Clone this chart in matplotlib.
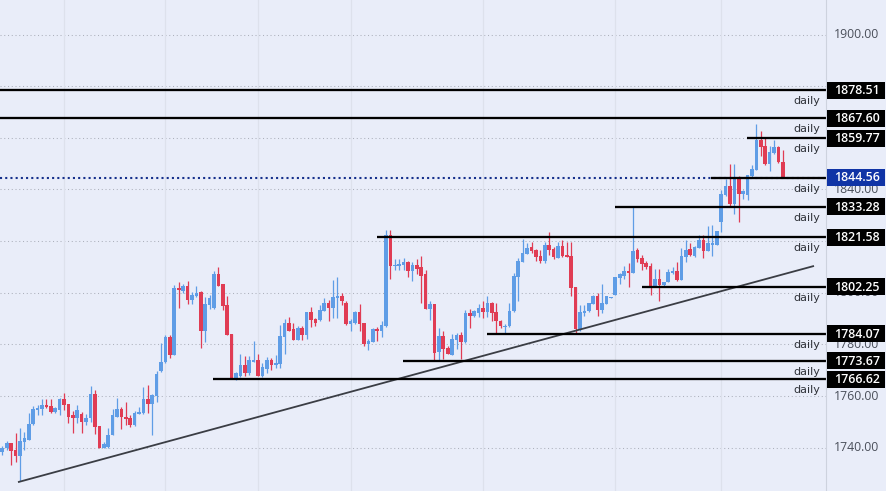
import matplotlib
matplotlib.use("Agg")
import matplotlib.pyplot as plt

opens = [1738.5,1739.8,1741.7,1739.0,1736.8,1742.2,1743.2,1749.2,1754.7,1754.9,1756.4,1756.0,1753.8,1754.6,1758.7,1756.8,1752.5,1751.4,1752.9,1749.8,
1751.4,1760.7,1748.3,1740.0,1740.4,1744.9,1752.1,1755.2,1752.1,1751.4,1748.7,1753.0,1753.3,1758.7,1756.8,1759.9,1769.6,1773.3,1783.0,1776.1,
1801.7,1800.8,1802.5,1797.4,1798.6,1800.4,1785.4,1795.1,1794.3,1807.2,1803.5,1795.1,1783.9,1766.5,1767.8,1771.9,1768.8,1773.4,1773.8,1767.6,
1770.4,1773.8,1771.9,1772.3,1783.0,1788.2,1785.8,1781.6,1786.3,1783.5,1792.4,1789.7,1789.3,1792.8,1795.9,1794.3,1797.8,1798.6,1795.9,1787.8,
1788.5,1792.4,1788.2,1780.0,1780.8,1785.8,1785.4,1787.0,1822.2,1810.2,1810.2,1810.6,1811.8,1808.3,1810.6,1809.8,1807.1,1793.6,1795.5,1776.9,
1783.1,1778.5,1775.8,1781.6,1783.5,1780.8,1792.0,1791.2,1792.0,1794.3,1792.4,1795.9,1792.4,1788.9,1786.9,1787.0,1792.8,1806.3,1812.1,1815.2,
1817.9,1816.4,1814.4,1812.5,1818.7,1817.1,1813.3,1818.3,1814.8,1814.4,1802.4,1785.8,1792.0,1792.8,1795.5,1798.9,1793.5,1795.5,1798.0,1799.3,
1805.9,1806.7,1808.6,1807.5,1816.4,1813.3,1811.4,1810.2,1802.1,1805.5,1803.2,1804.0,1807.5,1808.3,1804.8,1813.7,1816.8,1814.1,1817.5,1820.3,
1816.0,1818.7,1818.7,1827.6,1838.0,1841.5,1834.2,1845.0,1838.4,1838.0,1845.4,1847.7,1859.0,1857.0,1850.0,1854.3,1856.6,1850.8]
highs = [1740.7,1742.7,1741.7,1745.9,1747.5,1746.3,1753.3,1756.0,1756.7,1758.7,1758.7,1758.7,1755.6,1759.1,1761.4,1756.8,1754.1,1756.4,1753.9,1753.2,
1763.9,1762.2,1748.3,1742.1,1747.5,1755.2,1759.1,1755.6,1757.9,1752.5,1754.1,1755.6,1763.4,1764.5,1761.0,1769.9,1780.4,1783.5,1783.5,1803.2,
1804.0,1803.6,1804.4,1800.5,1802.8,1800.8,1798.5,1799.0,1808.3,1809.8,1803.5,1798.6,1783.9,1769.2,1776.5,1775.4,1775.4,1781.2,1776.5,1772.7,
1775.0,1774.6,1775.8,1787.4,1789.7,1790.5,1788.2,1787.0,1787.0,1792.4,1794.6,1790.2,1795.1,1797.8,1797.4,1804.8,1806.0,1800.1,1796.7,1789.7,
1792.8,1795.5,1788.2,1782.0,1786.2,1786.6,1788.9,1824.5,1824.5,1812.9,1812.9,1813.3,1812.5,1812.1,1812.9,1814.1,1808.7,1796.7,1795.5,1786.2,
1785.1,1779.6,1783.9,1784.3,1785.0,1793.5,1793.9,1793.5,1795.5,1797.0,1798.6,1796.6,1795.9,1789.3,1788.1,1796.2,1807.5,1813.3,1821.0,1819.1,
1819.8,1817.1,1816.4,1819.8,1823.7,1817.9,1819.8,1820.6,1819.8,1819.8,1802.4,1795.1,1795.1,1796.2,1799.3,1800.1,1803.6,1798.9,1798.3,1806.3,
1807.5,1810.2,1811.7,1833.4,1817.5,1814.5,1812.5,1811.4,1809.4,1809.4,1804.0,1809.4,1809.8,1812.1,1817.2,1820.3,1819.1,1818.3,1822.2,1822.2,
1825.7,1826.1,1824.1,1839.9,1844.2,1850.0,1849.7,1845.4,1839.9,1845.8,1849.3,1865.2,1862.8,1860.5,1857.0,1859.0,1857.0,1855.1]
lows = [1737.2,1739.1,1733.3,1734.5,1727.1,1739.1,1742.9,1748.9,1752.7,1752.7,1755.4,1753.6,1753.6,1752.7,1754.6,1749.6,1745.9,1749.6,1745.9,1748.7,
1749.8,1745.3,1740.1,1739.8,1740.1,1744.8,1751.8,1747.1,1749.0,1747.9,1748.4,1752.9,1753.0,1753.3,1744.8,1757.6,1769.4,1772.9,1774.6,1776.1,
1794.3,1800.1,1795.5,1795.5,1798.3,1778.5,1780.8,1793.7,1793.9,1802.5,1793.2,1783.5,1766.5,1766.2,1767.5,1767.6,1768.0,1773.4,1767.6,1767.4,
1769.1,1770.0,1770.7,1770.7,1776.5,1785.4,1781.6,1781.6,1781.6,1782.2,1786.6,1787.0,1788.9,1792.8,1788.9,1790.1,1790.1,1795.1,1787.4,1785.4,
1788.1,1785.1,1779.3,1777.7,1780.8,1781.2,1782.7,1786.6,1805.2,1809.0,1809.0,1808.7,1806.3,1804.4,1807.1,1795.9,1793.6,1789.3,1773.8,1773.8,
1774.2,1776.5,1775.8,1778.1,1774.2,1780.4,1786.2,1790.8,1790.8,1790.4,1790.8,1788.9,1784.2,1786.2,1784.6,1786.6,1792.4,1797.0,1812.1,1815.2,
1815.6,1812.5,1811.7,1811.7,1814.8,1812.9,1813.3,1814.0,1813.7,1798.6,1784.6,1785.4,1791.2,1792.4,1795.5,1791.2,1792.0,1795.5,1797.9,1799.3,
1803.6,1805.5,1802.4,1807.5,1812.1,1809.0,1809.4,1799.0,1802.1,1797.0,1802.8,1804.0,1807.1,1804.4,1804.8,1811.8,1814.1,1813.7,1817.5,1813.3,
1816.0,1814.1,1818.7,1823.4,1837.6,1833.8,1830.7,1827.6,1836.5,1836.1,1844.6,1847.7,1852.8,1849.3,1847.0,1853.9,1850.4,1844.6]
closes = [1739.8,1741.7,1738.7,1736.8,1742.5,1743.6,1749.4,1755.2,1755.4,1756.5,1755.6,1753.8,1755.4,1758.8,1756.5,1752.1,1751.4,1754.5,1749.8,1751.6,
1760.7,1747.9,1740.1,1741.6,1744.8,1752.5,1755.2,1751.8,1751.0,1749.0,1753.3,1753.7,1758.7,1757.0,1760.4,1768.4,1773.4,1782.7,1776.1,1801.7,
1801.0,1802.7,1797.4,1799.0,1800.1,1785.4,1795.5,1797.8,1807.2,1802.8,1794.7,1783.5,1766.5,1768.8,1771.9,1768.8,1773.8,1773.8,1767.6,1771.1,
1773.8,1771.9,1772.7,1783.1,1788.2,1785.4,1781.6,1786.3,1783.5,1792.4,1789.3,1788.5,1793.2,1795.9,1794.3,1798.2,1798.6,1796.7,1787.8,1788.9,
1792.4,1787.8,1780.0,1781.2,1785.8,1785.4,1787.4,1822.2,1810.2,1810.6,1811.0,1811.8,1808.5,1810.6,1809.4,1806.7,1793.6,1795.5,1776.8,1783.1,
1778.1,1776.5,1782.0,1783.5,1780.8,1792.0,1791.2,1793.1,1794.3,1792.4,1795.9,1792.0,1788.9,1787.3,1787.3,1793.1,1806.7,1812.5,1815.6,1817.5,
1816.0,1814.0,1812.5,1818.7,1816.7,1813.7,1818.3,1814.4,1814.0,1802.0,1785.8,1792.4,1793.1,1795.9,1798.9,1793.5,1795.9,1798.6,1798.2,1806.3,
1807.1,1808.6,1807.8,1816.0,1812.9,1811.0,1809.8,1802.4,1805.5,1803.2,1804.0,1807.9,1808.3,1804.8,1814.1,1816.4,1814.5,1817.9,1820.3,1816.0,
1819.1,1819.1,1823.8,1838.4,1841.5,1834.2,1844.6,1838.4,1839.6,1845.8,1848.1,1859.0,1856.6,1850.0,1854.7,1856.6,1850.7,1844.6]

level_prices = [1878.51, 1867.60, 1859.77, 1833.28, 1821.58, 1802.25, 1784.07, 1773.67, 1766.62]
level_starts = [-1, -1, 168.9, 139, 85, 145.1, 110, 90.9, 47.8]
level_text = "daily"
current_price = 1844.56
current_start = 160.6
grid_prices = [1900, 1880, 1860, 1840, 1820, 1800, 1780, 1760, 1740]
y_ticks = [1900, 1840, 1800, 1780, 1760, 1740]
time_grid = [14, 37, 58, 79, 109, 139, 163]
trend_x = [3.56, 184.06]
trend_y = [1726.7, 1810.4]

BG = "#e9edf9"
UP = "#5f9de6"
DOWN = "#e03c54"
FONT = "Open Sans"

W, H = 887, 491
AXW = 826.5
PX0, PXS = 2.3, 4.41
YTOP = 1913.36
YBOT = 1723.27
PX_PER_UNIT = 491 / (YTOP - YBOT)

fig = plt.figure(figsize=(W / 100, H / 100), dpi=100, facecolor=BG)
ax = fig.add_axes([0, 0, AXW / W, 1], facecolor=BG)
ax2 = fig.add_axes([AXW / W, 0, 1 - AXW / W, 1], facecolor=BG)
ax.set_xlim(-PX0 / PXS, (AXW - PX0) / PXS)
ax.set_ylim(YBOT, YTOP)
ax2.set_xlim(0, W - AXW)
ax2.set_ylim(YBOT, YTOP)
for a in (ax, ax2):
    a.set_xticks([])
    a.set_yticks([])
    for side in ("top", "bottom", "left", "right"):
        a.spines[side].set_visible(False)
ax2.spines["left"].set_visible(True)
ax2.spines["left"].set_color("#cdd2de")
ax2.spines["left"].set_linewidth(0.8)

# grid
for v in grid_prices:
    ax.axhline(v, color="#adb1bc", lw=0.75, ls=(0, (1, 2.6)), zorder=1)
for t in time_grid:
    ax.axvline(t, color="#dde1ec", lw=0.9, zorder=1)

# candles
for i, (o, h, l, c) in enumerate(zip(opens, highs, lows, closes)):
    col = UP if c >= o else DOWN
    ax.vlines(i, l, h, color=col, lw=0.9, zorder=2)
    ax.bar(i, max(abs(c - o), 0.35), bottom=min(o, c), width=0.82, color=col, lw=0, zorder=3)

# current price dotted line
ax.axhline(current_price, color="#16308c", lw=1.5, ls=(0, (1, 1.5)), zorder=4)

# trend line
ax.plot(trend_x, trend_y, color="#3a3d44", lw=1.3, zorder=4, solid_capstyle="butt")

# levels
all_prices = level_prices + [current_price]
all_starts = level_starts + [current_start]
for p, s in zip(all_prices, all_starts):
    ax.hlines(p, s, ax.get_xlim()[1], color="black", lw=1.65, zorder=5)
    ax.annotate(level_text, xy=(820 / AXW, p), xycoords=("axes fraction", "data"),
                xytext=(0, -7.9), textcoords="offset points", ha="right", va="center",
                fontsize=8, color="#2e3138", family="DejaVu Sans", zorder=6)

# price scale
cx = (W - AXW) / 2
for v in y_ticks:
    ax2.text(cx, v, f"{v:.2f}", ha="center", va="center", fontsize=8.8, family=FONT,
             color="#4a4f5a", zorder=1)
box_h = 17 / PX_PER_UNIT
for p in level_prices:
    ax2.bar(cx - 0.3, box_h, bottom=p - box_h / 2, width=58, color="black", lw=0, zorder=3)
    ax2.text(cx, p - 0.1, f"{p:.2f}", ha="center", va="center", fontsize=8.9, family=FONT,
             fontweight="semibold", color="white", zorder=4)
ax2.bar(cx - 0.3, box_h, bottom=current_price - box_h / 2, width=58, color="#1034a6", lw=0, zorder=3)
ax2.text(cx, current_price - 0.1, f"{current_price:.2f}", ha="center", va="center", fontsize=8.9,
         family=FONT, fontweight="semibold", color="white", zorder=4)

fig.savefig("out.png", dpi=100, facecolor=BG)
